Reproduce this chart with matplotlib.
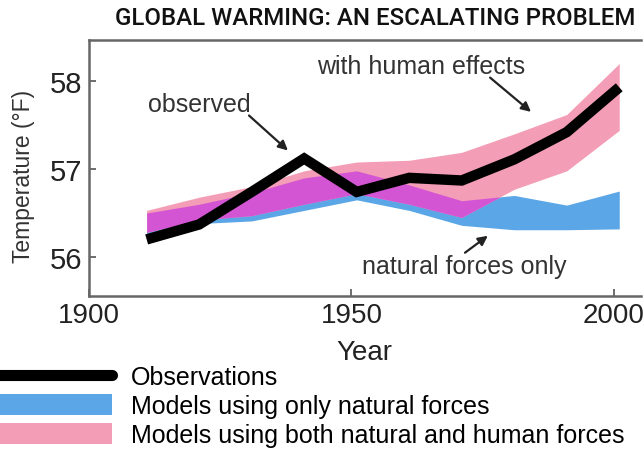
import numpy as np
import matplotlib
matplotlib.use('Agg')
import matplotlib.pyplot as plt
from matplotlib.lines import Line2D
from matplotlib.patches import Patch

# decade points
years = [1911, 1921, 1931, 1941, 1951, 1961, 1971, 1981, 1991, 2001]
observed = [56.2, 56.37, 56.74, 57.12, 56.74, 56.9, 56.87, 57.11, 57.42, 57.93]
human_hi = [56.53, 56.68, 56.8, 56.98, 57.08, 57.1, 57.19, 57.4, 57.62, 58.2]
human_lo = [56.28, 56.42, 56.47, 56.6, 56.72, 56.6, 56.45, 56.77, 56.98, 57.44]
natural_hi = [56.5, 56.6, 56.73, 56.9, 56.98, 56.82, 56.64, 56.7, 56.59, 56.75]
natural_lo = [56.25, 56.38, 56.41, 56.53, 56.65, 56.53, 56.36, 56.31, 56.31, 56.32]

xticks = [1900, 1950, 2000]
yticks = [56, 57, 58]

blue = '#5aa6e6'
pink = '#f49db6'
magenta = '#d455d4'
sans = ['Liberation Sans', 'DejaVu Sans']

fig = plt.figure(figsize=(6.44, 4.52), dpi=100)
ax = fig.add_axes([0.138, 0.343, 0.857, 0.566])

ax.fill_between(years, natural_lo, natural_hi, color=blue, lw=0)
ax.fill_between(years, human_lo, human_hi, color=pink, lw=0)
lo = np.maximum(natural_lo, human_lo)
hi = np.minimum(natural_hi, human_hi)
ax.fill_between(years, lo, hi, where=hi > lo, interpolate=True, color=magenta, lw=0)
ax.plot(years, observed, color='black', lw=7.5, solid_joinstyle='miter', solid_capstyle='butt')

ax.set_xlim(1900, 2005.1)
ax.set_ylim(55.557, 58.466)
ax.set_xticks(xticks)
ax.set_yticks(yticks)
ax.set_xticklabels([str(t) for t in xticks], fontsize=20, family=sans, color='#222')
ax.set_yticklabels([str(t) for t in yticks], fontsize=21, family=sans, color='#222')
ax.tick_params(direction='in', length=5, width=1.2, color='#555', pad=4)
ax.tick_params(axis='y', pad=5)
for s in ['left', 'bottom', 'top']:
    ax.spines[s].set_color('#666')
    ax.spines[s].set_linewidth(1.8)
ax.spines['right'].set_visible(False)

ax.set_xlabel('Year', fontsize=20, family=sans, color='#222', labelpad=8)
ax.set_ylabel('Temperature (\u00b0F)', fontsize=16.5, family=sans, color='#333')
ax.yaxis.set_label_coords(-0.098, 0.47)

arrow = dict(arrowstyle='-|>', color='#222', lw=1.6, mutation_scale=14)
ax.annotate('with human effects', xy=(1984.6, 57.63), xytext=(1963.2, 58.17),
            fontsize=18, family=sans, color='#333', ha='center', va='center')
ax.annotate('', xy=(1984.6, 57.63), xytext=(1976, 58.06), arrowprops=arrow)
ax.annotate('observed', xy=(1938.3, 57.19), xytext=(1921, 57.74),
            fontsize=18, family=sans, color='#333', ha='center', va='center')
ax.annotate('', xy=(1938.3, 57.19), xytext=(1930.1, 57.63), arrowprops=arrow)
ax.annotate('natural forces only', xy=(1976.4, 56.26), xytext=(1971.4, 55.9),
            fontsize=18, family=sans, color='#333', ha='center', va='center')
ax.annotate('', xy=(1976.4, 56.26), xytext=(1971.2, 56.03), arrowprops=arrow)

fig.text(0.582, 0.96, 'GLOBAL WARMING: AN ESCALATING PROBLEM', ha='center', va='center',
         fontsize=17.3, fontweight='medium',
         family=['Roboto', 'DejaVu Sans'], color='#111')

handles = [Line2D([], [], color='black', lw=8, solid_capstyle='round'),
           Patch(color=blue, lw=0),
           Patch(color=pink, lw=0)]
labels = ['Observations', 'Models using only natural forces',
          'Models using both natural and human forces']
fig.legend(handles, labels, loc='upper left', bbox_to_anchor=(-0.012, 0.19),
           frameon=False, handlelength=4.8, handleheight=0.9, handletextpad=0.75,
           labelspacing=0.2, borderaxespad=0, borderpad=0,
           prop={'family': sans, 'size': 18})

fig.savefig('out.png', dpi=100)
